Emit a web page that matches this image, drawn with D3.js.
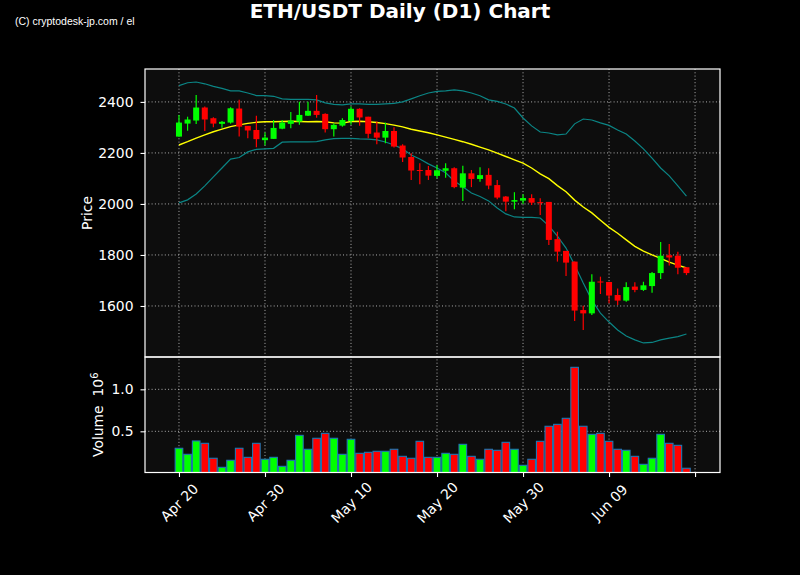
<!DOCTYPE html>
<html lang="en">

<head>
    <meta charset="UTF-8">
    <title>ETH/USDT Daily (D1) Chart</title>
    <script src="https://cdn.jsdelivr.net/npm/d3@7"></script>
    <style>
        body { margin: 0; background: #000; }
        text { font-family: "DejaVu Sans", sans-serif; fill: #fff; }
    </style>
</head>

<body>
    <svg id="chart" width="800" height="575"></svg>

    <script type="text/javascript">

        // daily candles, Apr 20 -> Jun 18
        const firstDay = new Date(Date.UTC(2023, 3, 20))
        const opens = [2264, 2315, 2327, 2378, 2336, 2314, 2319, 2374, 2306, 2290, 2250, 2255, 2295, 2314, 2323, 2346, 2365, 2353, 2293, 2307,
            2325, 2373, 2342, 2280, 2260, 2286, 2229, 2184, 2133, 2133, 2110, 2130, 2140, 2064, 2120, 2098, 2114, 2074, 2029, 2009,
            2013, 2023, 2007, 2008, 1862, 1816, 1774, 1584, 1571, 1696, 1694, 1643, 1621, 1676, 1663, 1678, 1729, 1799, 1797, 1752]
        const highs = [2349, 2342, 2427, 2382, 2340, 2325, 2379, 2408, 2306, 2346, 2280, 2329, 2329, 2360, 2401, 2401, 2427, 2356, 2316, 2336,
            2382, 2375, 2342, 2323, 2319, 2301, 2234, 2199, 2160, 2149, 2153, 2160, 2144, 2150, 2133, 2144, 2140, 2094, 2031, 2046,
            2038, 2038, 2022, 2008, 1891, 1816, 1774, 1601, 1724, 1715, 1694, 1669, 1693, 1693, 1695, 1733, 1851, 1843, 1813, 1752]
        const lows = [2263, 2287, 2313, 2286, 2301, 2299, 2315, 2264, 2258, 2222, 2230, 2255, 2293, 2297, 2310, 2345, 2338, 2280, 2264, 2303,
            2310, 2307, 2258, 2234, 2238, 2221, 2164, 2094, 2077, 2094, 2101, 2103, 2062, 2012, 2066, 2087, 2058, 2018, 1971, 1979,
            2000, 1996, 1957, 1839, 1774, 1718, 1541, 1506, 1565, 1647, 1611, 1604, 1617, 1654, 1659, 1652, 1706, 1759, 1724, 1721]
        const closes = [2319, 2331, 2378, 2331, 2315, 2322, 2375, 2303, 2288, 2254, 2260, 2298, 2319, 2327, 2349, 2365, 2349, 2293, 2310, 2329,
            2373, 2339, 2275, 2260, 2286, 2225, 2182, 2131, 2129, 2111, 2132, 2140, 2066, 2120, 2098, 2113, 2072, 2025, 2009, 2015,
            2023, 2005, 2003, 1859, 1813, 1770, 1582, 1571, 1695, 1692, 1641, 1621, 1674, 1663, 1681, 1729, 1797, 1790, 1750, 1729]
        // volume in units of 10^6
        const volumes = [0.298, 0.226, 0.385, 0.357, 0.179, 0.071, 0.155, 0.298, 0.190, 0.357, 0.167, 0.190, 0.083, 0.155, 0.452, 0.286, 0.417, 0.476, 0.417, 0.226,
            0.405, 0.238, 0.250, 0.262, 0.262, 0.286, 0.202, 0.179, 0.381, 0.190, 0.190, 0.238, 0.226, 0.345, 0.202, 0.167, 0.286, 0.274, 0.369, 0.286,
            0.095, 0.167, 0.381, 0.560, 0.583, 0.655, 1.262, 0.560, 0.464, 0.476, 0.381, 0.286, 0.274, 0.202, 0.107, 0.179, 0.464, 0.357, 0.333, 0.060]
        // 20 day moving average and bollinger bands
        const sma20 = [2231, 2244, 2258, 2271, 2283, 2293, 2303, 2310, 2316, 2320, 2322, 2322, 2323, 2324, 2323, 2322, 2323, 2322, 2318, 2317,
            2323, 2324, 2322, 2319, 2315, 2309, 2302, 2293, 2286, 2279, 2271, 2262, 2253, 2244, 2234, 2223, 2212, 2199, 2186, 2173,
            2160, 2141, 2118, 2099, 2072, 2048, 2015, 1988, 1965, 1936, 1908, 1885, 1859, 1834, 1815, 1800, 1787, 1772, 1760, 1749]
        const upperBand = [2464, 2475, 2478, 2471, 2461, 2453, 2443, 2443, 2435, 2425, 2425, 2422, 2412, 2410, 2410, 2410, 2408, 2396, 2390, 2388,
            2392, 2392, 2390, 2390, 2392, 2394, 2400, 2412, 2424, 2435, 2441, 2443, 2447, 2443, 2435, 2424, 2408, 2402, 2392, 2376,
            2337, 2306, 2282, 2278, 2271, 2274, 2314, 2333, 2329, 2318, 2308, 2290, 2274, 2247, 2216, 2180, 2141, 2110, 2071, 2031]
        const lowerBand = [2004, 2016, 2039, 2071, 2106, 2141, 2176, 2182, 2204, 2214, 2216, 2218, 2242, 2243, 2243, 2243, 2244, 2251, 2256, 2257,
            2257, 2255, 2254, 2251, 2243, 2231, 2216, 2192, 2176, 2157, 2141, 2122, 2090, 2067, 2043, 2029, 2012, 1984, 1961, 1949,
            1947, 1947, 1945, 1914, 1874, 1827, 1761, 1690, 1623, 1572, 1537, 1506, 1482, 1467, 1455, 1457, 1467, 1474, 1480, 1490]
        const priceTicks = [1600, 1800, 2000, 2200, 2400]
        const volumeTicks = [0.5, 1.0]
        const dateTicks = d3.utcDay.range(firstDay, d3.utcDay.offset(firstDay, 61), 10)

        const candles = opens.map((o, i) => ({
            date: d3.utcDay.offset(firstDay, i),
            open: o, high: highs[i], low: lows[i], close: closes[i],
            volume: volumes[i], sma: sma20[i], upper: upperBand[i], lower: lowerBand[i]
        }))

        const svg = d3.select('#chart')
        svg.append('rect').attr('width', 800).attr('height', 575).attr('fill', '#000')

        const left = 145, right = 720
        const priceTop = 69, priceBottom = 357
        const volTop = 357, volBottom = 472.5
        const day = 864e5

        const x = d3.scaleUtc()
            .domain([new Date(+firstDay - 3.95 * day), new Date(+firstDay + 62.9 * day)])
            .range([left, right])
        const y = d3.scaleLinear().domain([1400, 2529]).range([priceBottom, priceTop])
        const yv = d3.scaleLinear().domain([0, 1.385]).range([473.3, volTop])

        const dayW = x(d3.utcDay.offset(firstDay, 1)) - x(firstDay)
        const green = '#00ff00', red = '#ff0000'
        const colour = d => d.close >= d.open ? green : red

        // panel backgrounds
        svg.append('rect').attr('x', left).attr('y', priceTop)
            .attr('width', right - left).attr('height', volBottom - priceTop).attr('fill', '#0d0d0d')

        const clip = svg.append('defs')
        clip.append('clipPath').attr('id', 'clipP').append('rect')
            .attr('x', left).attr('y', priceTop).attr('width', right - left).attr('height', priceBottom - priceTop)
        clip.append('clipPath').attr('id', 'clipV').append('rect')
            .attr('x', left).attr('y', volTop).attr('width', right - left).attr('height', volBottom - volTop)

        // grid
        const grid = svg.append('g')
            .attr('stroke', '#b0b0b0').attr('stroke-width', 1).attr('stroke-dasharray', '1,2.3')
        grid.selectAll('.gx').data(dateTicks).join('line')
            .attr('x1', d => x(d)).attr('x2', d => x(d))
            .attr('y1', priceTop).attr('y2', volBottom)
        grid.selectAll('.gy').data(priceTicks).join('line')
            .attr('x1', left).attr('x2', right)
            .attr('y1', d => y(d)).attr('y2', d => y(d))
        grid.selectAll('.gv').data(volumeTicks).join('line')
            .attr('x1', left).attr('x2', right)
            .attr('y1', d => yv(d)).attr('y2', d => yv(d))

        // bands + moving average
        const pricePlot = svg.append('g').attr('clip-path', 'url(#clipP)')
        const lineFor = key => d3.line().x(d => x(d.date)).y(d => y(d[key]))
        pricePlot.append('path').datum(candles).attr('d', lineFor('upper'))
            .attr('fill', 'none').attr('stroke', '#0b8585').attr('stroke-width', 1.2)
        pricePlot.append('path').datum(candles).attr('d', lineFor('lower'))
            .attr('fill', 'none').attr('stroke', '#0b8585').attr('stroke-width', 1.2)
        pricePlot.append('path').datum(candles).attr('d', lineFor('sma'))
            .attr('fill', 'none').attr('stroke', '#ffff00').attr('stroke-width', 1.4)

        // candles
        const bodyW = dayW * 0.7
        const cg = pricePlot.selectAll('.candle').data(candles).join('g')
        cg.append('line')
            .attr('x1', d => x(d.date)).attr('x2', d => x(d.date))
            .attr('y1', d => y(d.high)).attr('y2', d => y(d.low))
            .attr('stroke', colour).attr('stroke-width', 1.2)
        cg.append('rect')
            .attr('x', d => x(d.date) - bodyW / 2)
            .attr('y', d => y(Math.max(d.open, d.close)))
            .attr('width', bodyW)
            .attr('height', d => Math.max(1, Math.abs(y(d.open) - y(d.close))))
            .attr('fill', colour)

        // volume bars
        svg.append('g').attr('clip-path', 'url(#clipV)')
            .selectAll('rect').data(candles).join('rect')
            .attr('x', d => x(d.date) - dayW / 2 + 0.5)
            .attr('y', d => yv(d.volume))
            .attr('width', dayW - 1)
            .attr('height', d => yv(0) - yv(d.volume))
            .attr('fill', colour)
            .attr('stroke', '#1f77b4').attr('stroke-width', 1.1)

        // frames
        svg.append('rect').attr('x', left).attr('y', priceTop)
            .attr('width', right - left).attr('height', priceBottom - priceTop)
            .attr('fill', 'none').attr('stroke', '#fff').attr('stroke-width', 1.2)
        svg.append('rect').attr('x', left).attr('y', volTop)
            .attr('width', right - left).attr('height', volBottom - volTop)
            .attr('fill', 'none').attr('stroke', '#fff').attr('stroke-width', 1.2)

        // axes
        const yAxis = svg.append('g').attr('transform', `translate(${left},0)`)
            .call(d3.axisLeft(y).tickValues(priceTicks).tickFormat(d3.format('d')).tickSize(4.5).tickPadding(7))
        const vAxis = svg.append('g').attr('transform', `translate(${left},0)`)
            .call(d3.axisLeft(yv).tickValues(volumeTicks).tickFormat(d3.format('.1f')).tickSize(4.5).tickPadding(7))
        const xAxis = svg.append('g').attr('transform', `translate(0,${volBottom})`)
            .call(d3.axisBottom(x).tickValues(dateTicks).tickSize(4.5)
                .tickFormat((d, i) => i < 6 ? d3.utcFormat('%b %d')(d) : ''))

        for (const ax of [yAxis, vAxis, xAxis]) {
            ax.select('.domain').remove()
            ax.selectAll('.tick line').attr('stroke', '#fff').attr('stroke-width', 1.1)
            ax.selectAll('.tick text')
                .attr('fill', '#fff')
                .style('font-family', '"DejaVu Sans", sans-serif')
                .style('font-size', '13.9px')
        }
        xAxis.selectAll('.tick text')
            .attr('y', 0).attr('dy', '0.35em')
            .attr('text-anchor', 'middle')
            .attr('transform', 'translate(0,30) rotate(-45)')

        // labels
        svg.append('text')
            .attr('x', 400).attr('y', 17.5)
            .attr('text-anchor', 'middle')
            .style('font-weight', 'bold').style('font-size', '20px')
            .text('ETH/USDT Daily (D1) Chart')

        svg.append('text')
            .attr('x', 15).attr('y', 25)
            .style('font-family', '"Liberation Sans", Arial, sans-serif').style('font-size', '10.5px')
            .text('(C) cryptodesk-jp.com / el')

        svg.append('text')
            .attr('transform', `translate(92,${(priceTop + priceBottom) / 2}) rotate(-90)`)
            .attr('text-anchor', 'middle')
            .style('font-size', '13.9px')
            .text('Price')

        const vLabel = svg.append('text')
            .attr('transform', `translate(103,${(volTop + volBottom) / 2}) rotate(-90)`)
            .attr('text-anchor', 'middle')
            .style('font-size', '13.9px')
        vLabel.append('tspan').text('Volume\u00a0\u00a010')
        vLabel.append('tspan').attr('dy', '-0.5em').style('font-size', '10px').text('6')

    </script>
</body>

</html>
